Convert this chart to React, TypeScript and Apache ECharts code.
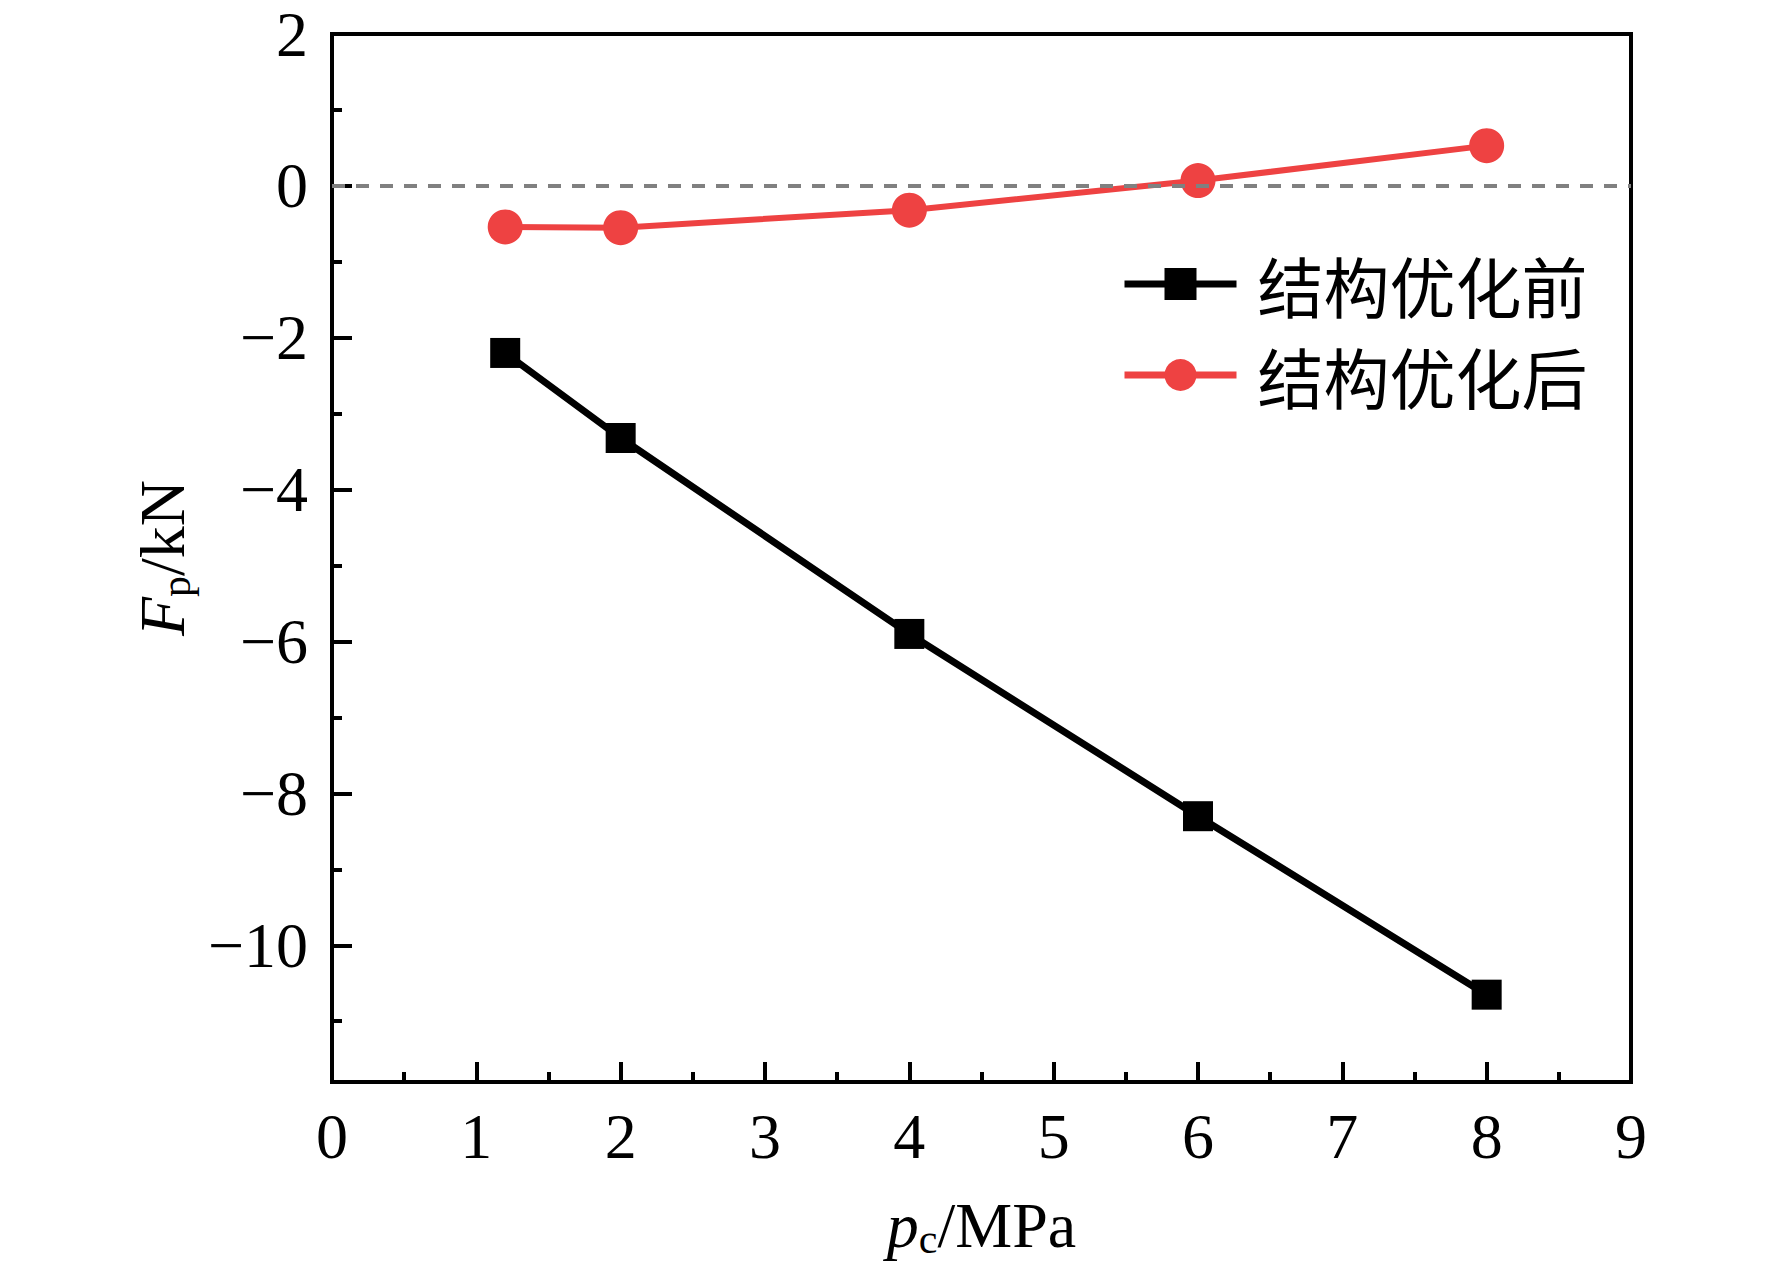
import { useEffect, useRef } from 'react';
import * as echarts from 'echarts';

const pressures = [1.2, 2, 4, 6, 8];
const forceBefore = [-2.2, -3.32, -5.9, -8.3, -10.65];
const forceAfter = [-0.54, -0.55, -0.32, 0.07, 0.53];
const seriesNames = ['结构优化前', '结构优化后'];
const yMajorTicks = [-10, -8, -6, -4, -2, 0, 2];
const yMinorTicks = [-11, -9, -7, -5, -3, -1, 1];

const SERIF = '"Liberation Serif", "Times New Roman", serif';
const minus = (v: number | string) => String(v).replace('-', '\u2212');

export default function App() {
  const chartRef = useRef<HTMLDivElement>(null);

  useEffect(() => {
    if (!chartRef.current) return;
    const chart = echarts.init(chartRef.current, null, { renderer: 'svg' });

    const titleRich = {
      i: { fontFamily: SERIF, fontSize: 64, fontStyle: 'italic', color: '#000', lineHeight: 70 },
      s: { fontFamily: SERIF, fontSize: 42, color: '#000', lineHeight: 34, verticalAlign: 'bottom' },
      n: { fontFamily: SERIF, fontSize: 64, color: '#000', lineHeight: 70 }
    };

    const option: echarts.EChartsOption = {
      animation: false,
      backgroundColor: '#fff',
      grid: {
        left: 332,
        right: 141,
        top: 34,
        bottom: 201,
        show: true,
        borderColor: '#000',
        borderWidth: 4
      },
      legend: {
        left: 1116,
        top: 246,
        orient: 'vertical',
        itemWidth: 112,
        itemHeight: 40,
        itemGap: 25,
        data: seriesNames,
        lineStyle: { width: 7 },
        textStyle: {
          fontFamily: '"Noto Sans CJK SC", sans-serif',
          fontSize: 66,
          lineHeight: 60,
          color: '#000',
          padding: [0, 0, 0, 16]
        }
      },
      xAxis: {
        type: 'value',
        min: 0,
        max: 9,
        interval: 1,
        name: '{i|p}{s|c}{n|/MPa}',
        nameLocation: 'middle',
        nameGap: 108,
        nameTextStyle: { rich: titleRich },
        axisLine: { onZero: false, lineStyle: { color: '#000', width: 4 } },
        axisTick: { inside: true, length: 20, lineStyle: { color: '#000', width: 4 } },
        minorTick: { show: true, splitNumber: 2, length: 10, lineStyle: { color: '#000', width: 4 } },
        splitLine: { show: false },
        axisLabel: {
          fontFamily: SERIF,
          fontSize: 64,
          color: '#000',
          margin: 22
        }
      },
      yAxis: [
        {
          type: 'value',
          min: -11.8,
          max: 2,
          position: 'left',
          name: '{i|F}{s|p}{n|/kN}',
          nameLocation: 'middle',
          nameGap: 132,
          nameTextStyle: { rich: titleRich },
          axisLine: { show: true, onZero: false, lineStyle: { color: '#000', width: 4 } },
          axisTick: {
            inside: true,
            length: 20,
            customValues: yMajorTicks,
            lineStyle: { color: '#000', width: 4 }
          },
          splitLine: { show: false },
          axisLabel: {
            customValues: yMajorTicks,
            fontFamily: SERIF,
            fontSize: 64,
            color: '#000',
            margin: 24,
            formatter: (v: number) => minus(v)
          }
        },
        {
          type: 'value',
          min: -11.8,
          max: 2,
          position: 'left',
          axisLine: { show: false, onZero: false },
          axisTick: {
            show: true,
            inside: true,
            length: 10,
            customValues: yMinorTicks,
            lineStyle: { color: '#000', width: 4 }
          },
          axisLabel: { show: false },
          splitLine: { show: false }
        }
      ],
      series: [
        {
          name: seriesNames[0],
          type: 'line',
          data: pressures.map((p, i) => [p, forceBefore[i]]),
          symbol: 'rect',
          symbolSize: 30,
          color: '#000',
          lineStyle: { color: '#000', width: 7 },
          itemStyle: { color: '#000' },
          z: 3
        },
        {
          name: seriesNames[1],
          type: 'line',
          data: pressures.map((p, i) => [p, forceAfter[i]]),
          symbol: 'circle',
          symbolSize: 35,
          color: '#ee4242',
          lineStyle: { color: '#ee4242', width: 6 },
          itemStyle: { color: '#ee4242' },
          z: 3,
          markLine: {
            silent: true,
            symbol: 'none',
            z: 10,
            label: { show: false },
            lineStyle: { color: '#808080', type: [13, 11], width: 4 },
            data: [{ yAxis: 0 }]
          }
        }
      ]
    };

    chart.setOption(option);
    return () => chart.dispose();
  }, []);

  return (
    <div
      ref={chartRef}
      style={{ position: 'absolute', left: 0, top: 0, width: 1772, height: 1283 }}
    />
  );
}
